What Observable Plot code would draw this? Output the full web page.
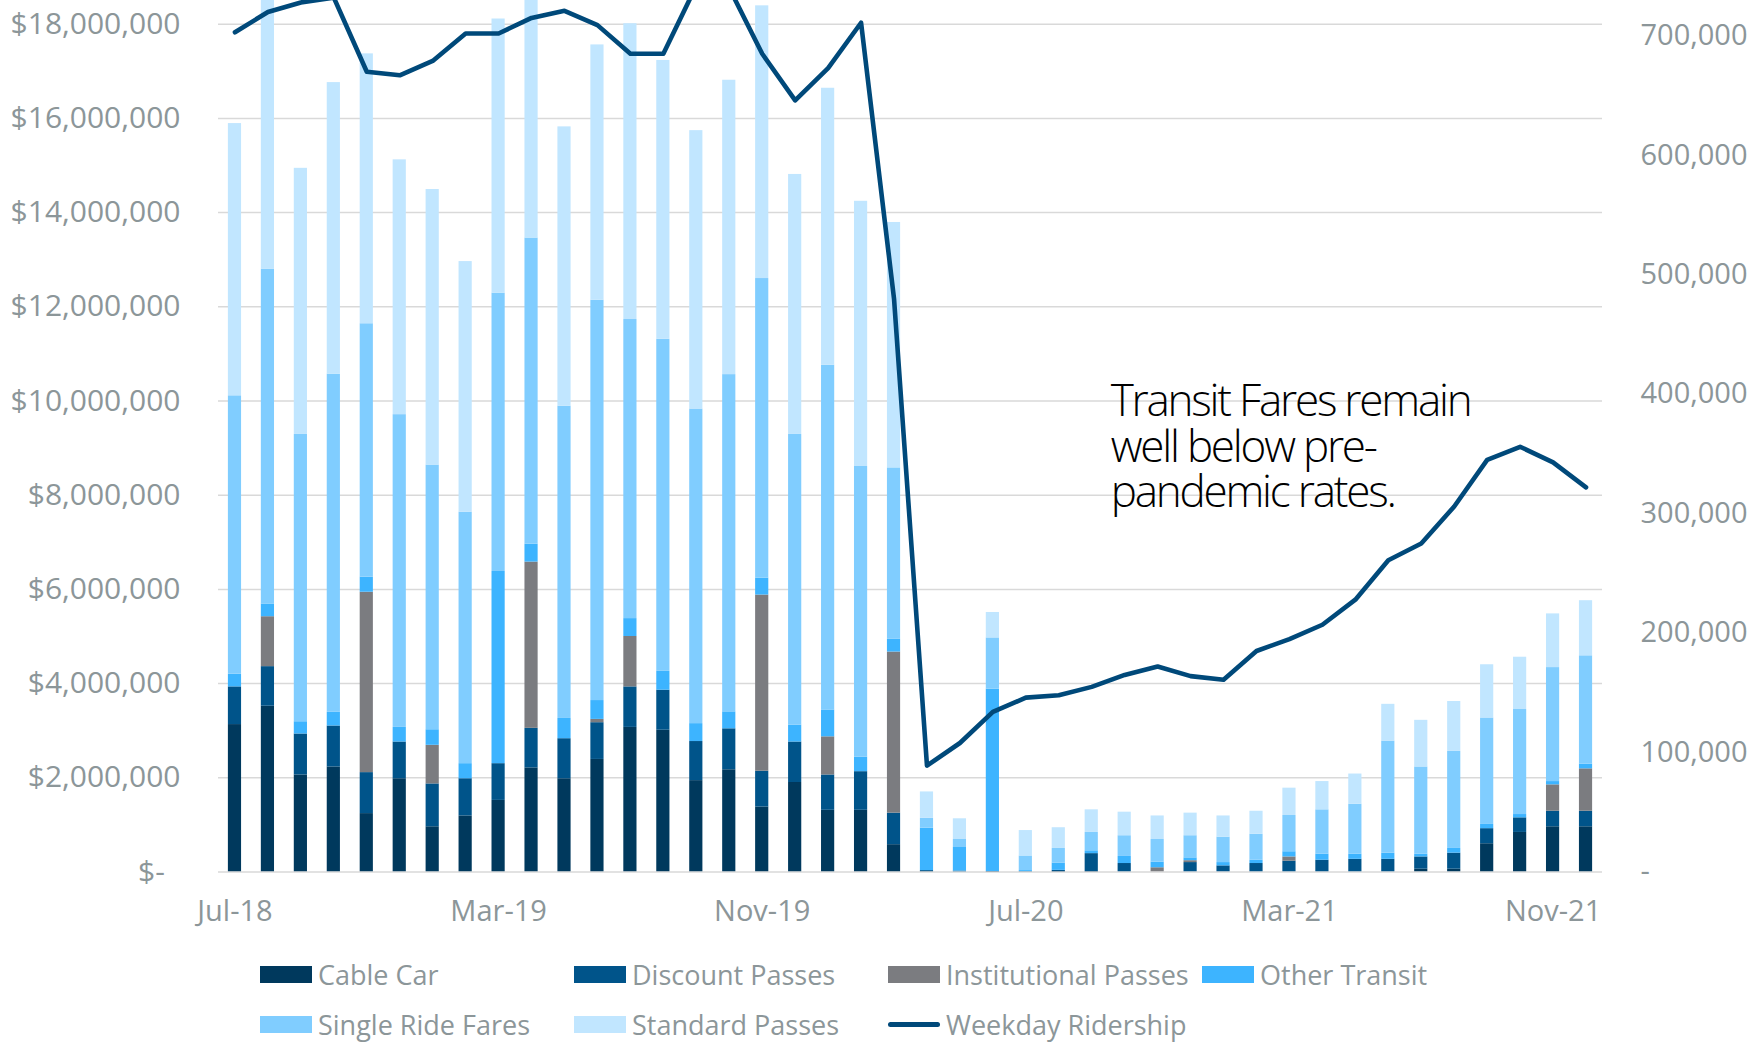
<!DOCTYPE html>
<html>
<head>
<meta charset="utf-8">
<script src="https://cdn.jsdelivr.net/npm/d3@7"></script>
<script src="https://cdn.jsdelivr.net/npm/@observablehq/plot@0.6"></script>
<style>
  html, body { margin: 0; padding: 0; background: #ffffff; }
  #wrap { position: relative; width: 1755px; height: 1043px; overflow: hidden; background: #fff; }
  #chart { position: absolute; left: 0; top: 0; }
  #legend { position: absolute; left: 260px; top: 949px; display: grid; grid-template-columns: repeat(4, 314px); grid-auto-rows: 50px;
            font-family: "Open Sans", sans-serif; font-size: 27px; line-height: 1; color: #8c9699; }
  .item { display: flex; align-items: center; white-space: nowrap; }
  .sw { width: 52px; height: 17px; margin-right: 6px; flex: none; }
  .ln { width: 52px; height: 5px; border-radius: 3px; margin-right: 6px; flex: none; }
</style>
</head>
<body>
<div id="wrap">
  <div id="chart"></div>
  <div id="legend"></div>
</div>
<script>
const months = ["Jul-18","Aug-18","Sep-18","Oct-18","Nov-18","Dec-18","Jan-19","Feb-19","Mar-19","Apr-19","May-19","Jun-19",
  "Jul-19","Aug-19","Sep-19","Oct-19","Nov-19","Dec-19","Jan-20","Feb-20","Mar-20","Apr-20","May-20","Jun-20",
  "Jul-20","Aug-20","Sep-20","Oct-20","Nov-20","Dec-20","Jan-21","Feb-21","Mar-21","Apr-21","May-21","Jun-21",
  "Jul-21","Aug-21","Sep-21","Oct-21","Nov-21","Dec-21"];
const xTickLabels = ["Jul-18","Mar-19","Nov-19","Jul-20","Mar-21","Nov-21"];

// Fare revenue by category, $ millions
const cableCar = [3.13,3.52,2.06,2.23,1.24,1.98,0.96,1.19,1.52,2.21,1.98,2.39,3.07,3.01,1.94,2.17,1.38,1.90,1.31,1.31,0.58,0.01,0,0,0,0,0,0,0,0,0,0,0,0,0,0,0.06,0.06,0.60,0.84,0.96,0.96];
const discountPasses = [0.80,0.84,0.87,0.87,0.87,0.78,0.91,0.79,0.78,0.84,0.85,0.78,0.86,0.85,0.83,0.87,0.76,0.86,0.75,0.82,0.67,0.02,0.02,0.01,0.01,0.035,0.39,0.18,0,0.20,0.13,0.18,0.23,0.25,0.27,0.27,0.26,0.34,0.32,0.31,0.33,0.33];
const institutionalPasses = [0,1.06,0,0,3.83,0,0.82,0,0,3.53,0,0.07,1.07,0,0,0,3.74,0,0.81,0,3.42,0,0,-0.04,0,-0.03,-0.03,0,0.09,0.04,0,0,0.09,0,0,0,0,0,0,0,0.56,0.90];
const otherTransit = [0.27,0.27,0.26,0.29,0.32,0.31,0.33,0.32,4.08,0.38,0.43,0.40,0.38,0.40,0.38,0.36,0.36,0.36,0.57,0.31,0.27,0.90,0.50,3.87,0.02,0.155,0.06,0.15,0.12,0.06,0.07,0.07,0.11,0.13,0.11,0.13,0.06,0.10,0.09,0.07,0.07,0.10];
const singleRideFares = [5.91,7.11,6.10,7.18,5.38,6.64,5.62,5.34,5.91,6.50,6.63,8.50,6.35,7.05,6.68,7.16,6.36,6.17,7.32,6.17,3.64,0.21,0.17,1.09,0.31,0.31,0.39,0.44,0.48,0.47,0.54,0.55,0.77,0.94,1.06,2.38,1.85,2.06,2.26,2.23,2.42,2.30];
const standardPasses = [5.78,6.20,5.65,6.19,5.73,5.41,5.85,5.32,5.82,5.44,5.93,5.42,6.28,5.92,5.91,6.25,5.79,5.52,5.88,5.63,5.21,0.56,0.44,0.54,0.54,0.44,0.48,0.50,0.50,0.48,0.45,0.49,0.58,0.60,0.64,0.78,0.99,1.06,1.13,1.11,1.14,1.17];

// Weekday ridership, thousands
const weekdayRidership = [703,720,728,732,670,667,679,702,702,715,721,709,685,685,742,740,685,646,673,711,480,89,108,134,146,148,155,165,172,164,161,185,195,207,228,261,275,306,345,356,343,322];

const seriesNames = ["Cable Car","Discount Passes","Institutional Passes","Other Transit","Single Ride Fares","Standard Passes"];
const seriesColors = ["#00395d","#00548a","#7b7c80","#3db4ff","#80cdff","#c1e6ff"];
const lineName = "Weekday Ridership";
const lineColor = "#00497a";

const leftTicks = [0,2e6,4e6,6e6,8e6,10e6,12e6,14e6,16e6,18e6];
const rightTicks = [0,100000,200000,300000,400000,500000,600000,700000];
const annotation = [{month: "Oct-20", value: 10.38e6, label: "Transit Fares remain\nwell below pre-\npandemic rates."}];

// dollars per rider for secondary axis alignment
const ratio = 25.36;

const seriesValues = [cableCar, discountPasses, institutionalPasses, otherTransit, singleRideFares, standardPasses];
const bars = [];
months.forEach((m, i) => {
  seriesNames.forEach((s, k) => bars.push({month: m, series: s, value: seriesValues[k][i] * 1e6}));
});
const ridership = months.map((m, i) => ({month: m, riders: weekdayRidership[i] * 1000}));

const fmt = d3.format(",");
const chart = Plot.plot({
  width: 1755,
  height: 940,
  marginTop: 0,
  marginBottom: 68.5,
  marginLeft: 218,
  marginRight: 153,
  style: {fontFamily: "Open Sans, sans-serif", fontSize: "29px", color: "#8c9699", background: "#fff"},
  x: {type: "band", domain: months, paddingInner: 0.6, paddingOuter: 0.3, axis: null},
  y: {domain: [0, 18.503e6], axis: null},
  color: {domain: seriesNames, range: seriesColors},
  marks: [
    Plot.gridY(leftTicks, {stroke: "#d9d9d9", strokeOpacity: 1, strokeWidth: 1.5}),
    Plot.barY(bars, {x: "month", y: "value", fill: "series", clip: true}),
    Plot.lineY(ridership, {x: "month", y: d => d.riders * ratio, stroke: lineColor, strokeWidth: 4.6, strokeLinejoin: "round", clip: true}),
    Plot.axisY(leftTicks, {anchor: "left", tickSize: 0, tickPadding: 38, label: null, fontSize: 30,
      tickFormat: d => d === 0 ? "$-\u00a0\u00a0" : "$" + fmt(d)}),
    Plot.axisY(rightTicks.map(t => t * ratio), {anchor: "right", tickSize: 0, tickPadding: 38, label: null,
      tickFormat: d => { const r = Math.round(d / ratio); return r === 0 ? "-" : fmt(r); }}),
    Plot.axisX(xTickLabels, {tickSize: 0, tickPadding: 28, label: null}),
    Plot.text(annotation, {x: "month", y: "value", text: "label", textAnchor: "start", lineAnchor: "top",
      lineHeight: 1.03, fontSize: 44, fontWeight: 300, fill: "#000", dx: -14, dy: 1, className: "annot"})
  ]
});
document.getElementById("chart").appendChild(chart);

// condense annotation letter spacing to the reference width
const annotText = chart.querySelector(".annot text");
if (annotText) {
  annotText.style.fontFamily = "Open Sans, sans-serif";
  const spans = annotText.querySelectorAll("tspan");
  const first = spans.length ? spans[0] : annotText;
  const w = first.getComputedTextLength();
  const n = first.textContent.length;
  const ls = (362 - w) / (n - 1);
  annotText.style.letterSpacing = ls + "px";
}

// legend
const legend = document.getElementById("legend");
seriesNames.forEach((s, k) => {
  const it = document.createElement("div"); it.className = "item";
  const sw = document.createElement("span"); sw.className = "sw"; sw.style.background = seriesColors[k];
  const tx = document.createElement("span"); tx.textContent = s;
  it.appendChild(sw); it.appendChild(tx); legend.appendChild(it);
});
{
  const it = document.createElement("div"); it.className = "item";
  const sw = document.createElement("span"); sw.className = "ln"; sw.style.background = lineColor;
  const tx = document.createElement("span"); tx.textContent = lineName;
  it.appendChild(sw); it.appendChild(tx); legend.appendChild(it);
}
</script>
</body>
</html>
